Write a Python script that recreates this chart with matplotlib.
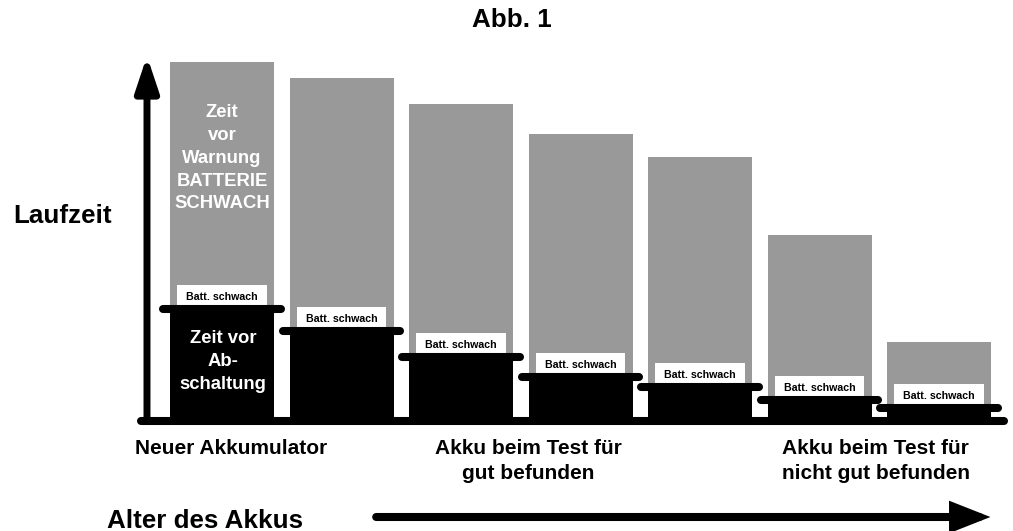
import matplotlib.pyplot as plt
from matplotlib.patches import FancyArrowPatch
import numpy as np

plt.rcParams['font.family'] = ['Liberation Sans', 'DejaVu Sans']
plt.rcParams['font.weight'] = 'bold'

# Laufzeit je Akku: gesamt und Anteil nach der Warnung (bis Abschaltung)
laufzeit = [356, 340, 314, 284, 261, 183, 76]
abschaltung = [109, 87, 61, 41, 31, 18, 10]
warnung = 'Batt. schwach'
gruppen = ['Neuer Akkumulator',
           'Akku beim Test für\ngut befunden',
           'Akku beim Test für\nnicht gut befunden']
gruppen_x = [0.08, 2.56, 5.47]

GRAU = '#999999'

fig = plt.figure(figsize=(10.13, 5.31), dpi=100)
ax = fig.add_axes([0, 0, 1, 1])
ax.set_xlim(-1.858, 6.619)
ax.set_ylim(-113, 418)
ax.set_axis_off()

x = np.arange(len(laufzeit))
ax.bar(x, laufzeit, width=0.87, color=GRAU, zorder=1)
ax.bar(x, abschaltung, width=0.87, color='black', zorder=2)
ax.bar(x, 24, bottom=abschaltung, width=0.75, color='white', zorder=3)
for xi, h in zip(x, abschaltung):
    ax.plot([xi - 0.49, xi + 0.49], [h, h], color='black', lw=5.8,
            solid_capstyle='round', zorder=4)
    ax.text(xi, h + 12, warnung, ha='center', va='center', fontsize=7.7,
            zorder=5)

# Beschriftung im ersten Balken
ax.text(0, 314, 'Zeit\nvor\nWarnung\nBATTERIE\nSCHWACH', color='white',
        ha='center', va='top', fontsize=13.3, linespacing=1.45, zorder=5)
ax.text(0.01, 88, 'Zeit vor\nAb-\nschaltung', color='white',
        ha='center', va='top', fontsize=13.3, linespacing=1.45, zorder=5)

# Grundlinie
ax.plot([-0.68, 6.54], [-3, -3], color='black', lw=5.8,
        solid_capstyle='round', zorder=4)

# Pfeile
ax.add_patch(FancyArrowPatch((-0.628, -3), (-0.628, 362),
                             arrowstyle='-|>,head_length=2.1,head_width=0.7',
                             mutation_scale=10, lw=5, color='black',
                             shrinkA=0, shrinkB=0, joinstyle='round',
                             zorder=4))
ax.add_patch(FancyArrowPatch((1.29, -99), (6.43, -99),
                             arrowstyle='-|>,head_length=1.9,head_width=0.75',
                             mutation_scale=10, lw=5.8, color='black',
                             shrinkA=0, shrinkB=0, capstyle='round',
                             joinstyle='miter', zorder=4))

# Texte
ax.text(2.427, 391, 'Abb. 1', ha='center', va='baseline', fontsize=18.7)
ax.text(-1.331, 195, 'Laufzeit', ha='center', va='baseline', fontsize=18.7)
ax.text(-0.146, -110, 'Alter des Akkus', ha='center', va='baseline',
        fontsize=18.7)
for gx, g in zip(gruppen_x, gruppen):
    ax.text(gx, -21, g, ha='center', va='top', fontsize=15,
            linespacing=1.37)

fig.savefig('out.png', dpi=100)
